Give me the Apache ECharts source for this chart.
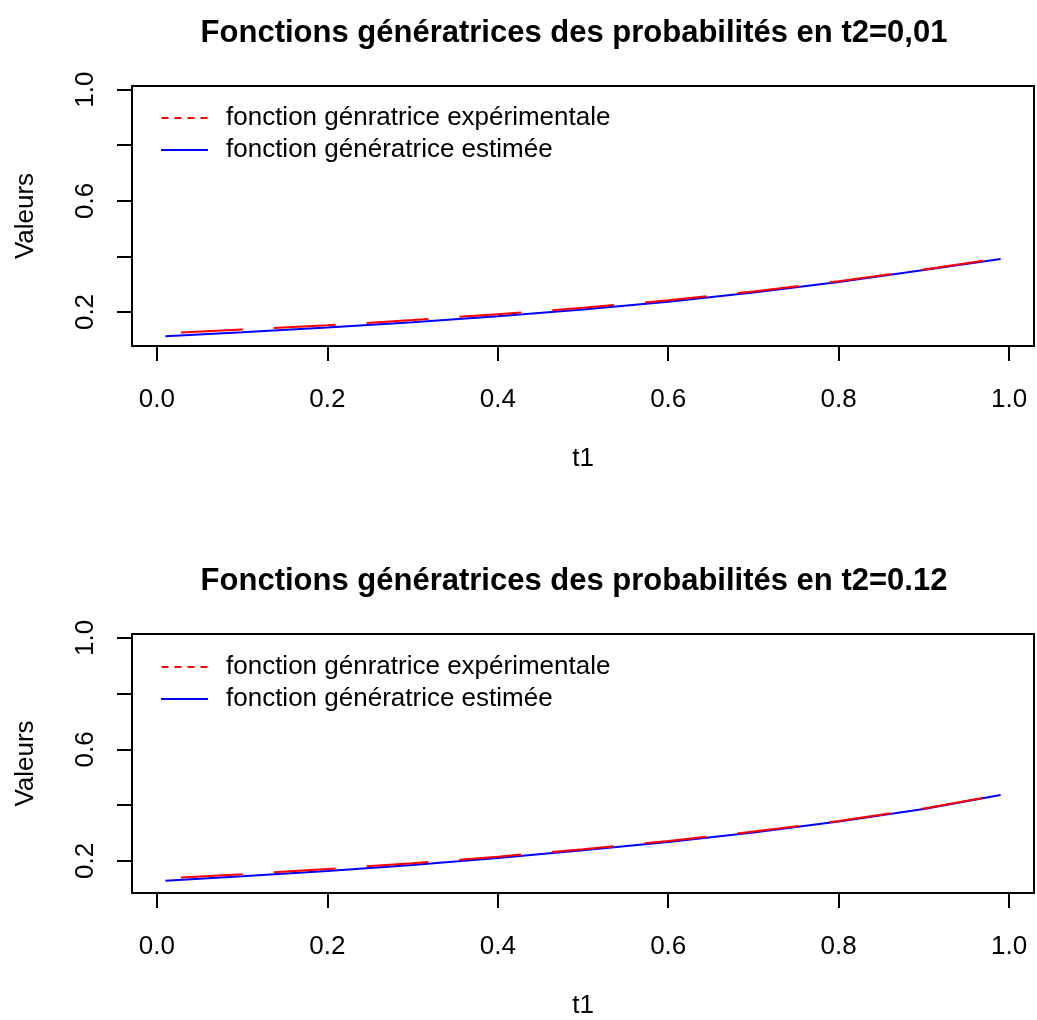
<!DOCTYPE html>
<html>
<head>
<meta charset="utf-8">
<script src="https://cdn.jsdelivr.net/npm/echarts@6/dist/echarts.min.js"></script>
<style>
  html, body { margin: 0; padding: 0; background: #fff; }
  #chart { width: 1037px; height: 1020px; }
</style>
</head>
<body>
<div id="chart"></div>
<script>
// valeurs de t1
const t1 = [0.01, 0.1, 0.2, 0.3, 0.4, 0.5, 0.6, 0.7, 0.8, 0.9, 0.99]

// t2 = 0,01
const expA = [0.123, 0.137, 0.152, 0.171, 0.192, 0.215, 0.242, 0.274, 0.311, 0.353, 0.393]
const estA = [0.113, 0.127, 0.144, 0.163, 0.185, 0.209, 0.237, 0.270, 0.308, 0.351, 0.391]

// t2 = 0.12
const expB = [0.137, 0.152, 0.171, 0.191, 0.215, 0.242, 0.271, 0.305, 0.343, 0.388, 0.437]
const estB = [0.129, 0.145, 0.164, 0.185, 0.210, 0.238, 0.268, 0.302, 0.341, 0.386, 0.436]

const xTicks = [0, 0.2, 0.4, 0.6, 0.8, 1.0]
const yTicks = [0.2, 0.4, 0.6, 0.8, 1.0]
const yLabels = [0.2, 0.6, 1.0]

const titles = [
  'Fonctions génératrices des probabilités en t2=0,01',
  'Fonctions génératrices des probabilités en t2=0.12'
]
const nameExp = 'fonction génratrice expérimentale'
const nameEst = 'fonction génératrice estimée'

const font = 'Liberation Sans, Arial, sans-serif'

let pairs = (ys) => t1.map((t, i) => [t, ys[i]])

let myChart = echarts.init(document.getElementById('chart'))

let grids = [
  { left: 132, right: 3, top: 86, height: 260 },
  { left: 132, right: 3, top: 634, height: 260 }
]
let yRange = [[0.0777, 1.013], [0.0846, 1.0143]]

let xAxis = grids.map((g, i) => ({
  type: 'value',
  gridIndex: i,
  min: -0.0292,
  max: 1.0292,
  name: 't1',
  nameLocation: 'middle',
  nameGap: 100,
  nameTextStyle: { color: '#000', fontSize: 26, fontFamily: font },
  axisLine: { show: false, onZero: false },
  splitLine: { show: false },
  axisTick: {
    show: true,
    length: 15,
    customValues: xTicks,
    lineStyle: { color: '#000', width: 2 }
  },
  axisLabel: {
    customValues: xTicks,
    margin: 41,
    color: '#000',
    fontSize: 26,
    fontFamily: font,
    formatter: (v) => v.toFixed(1)
  }
}))

let yAxis = grids.map((g, i) => ({
  type: 'value',
  gridIndex: i,
  min: yRange[i][0],
  max: yRange[i][1],
  name: 'Valeurs',
  nameLocation: 'middle',
  nameGap: 93,
  nameRotate: 90,
  nameTextStyle: { color: '#000', fontSize: 26, fontFamily: font },
  axisLine: { show: false, onZero: false },
  splitLine: { show: false },
  axisTick: {
    show: true,
    length: 15,
    customValues: yTicks,
    lineStyle: { color: '#000', width: 2 }
  },
  axisLabel: {
    customValues: yLabels,
    rotate: 90,
    margin: 33,
    color: '#000',
    fontSize: 26,
    fontFamily: font,
    formatter: (v) => v.toFixed(1)
  }
}))

let series = []
;[[estA, expA], [estB, expB]].forEach(([est, exp], i) => {
  series.push({
    name: nameEst,
    type: 'line',
    xAxisIndex: i,
    yAxisIndex: i,
    data: pairs(est),
    symbol: 'none',
    lineStyle: { color: '#0000ff', width: 2 },
    itemStyle: { color: '#0000ff' }
  })
  series.push({
    name: nameExp,
    type: 'line',
    xAxisIndex: i,
    yAxisIndex: i,
    data: pairs(exp),
    symbol: 'none',
    lineStyle: { color: '#ff0000', width: 2, type: [62, 31], dashOffset: 77.5 },
    itemStyle: { color: '#ff0000' }
  })
})

let legend = [100, 649].map((top) => ({
  orient: 'vertical',
  left: 155,
  top: top,
  right: 'auto',
  bottom: 'auto',
  itemWidth: 47,
  itemHeight: 14,
  itemGap: 6,
  selectedMode: false,
  itemStyle: { opacity: 0 },
  textStyle: { color: '#000', fontSize: 26, fontFamily: font, lineHeight: 26, padding: [0, 0, 0, 13] },
  data: [
    { name: nameExp, lineStyle: { type: [7, 6] } },
    { name: nameEst }
  ]
}))

let option = {
  animation: false,
  backgroundColor: '#fff',
  grid: grids.map((g) => Object.assign({ show: true, borderColor: '#000', borderWidth: 2 }, g)),
  xAxis: xAxis,
  yAxis: yAxis,
  legend: legend,
  series: series,
  graphic: titles.map((txt, i) => ({
    type: 'text',
    x: 574,
    y: [33, 581][i],
    style: {
      text: txt,
      align: 'center',
      verticalAlign: 'middle',
      fontSize: 31,
      fontWeight: 'bold',
      fontFamily: font,
      fill: '#000'
    }
  }))
}
myChart.setOption(option)
</script>
</body>
</html>
